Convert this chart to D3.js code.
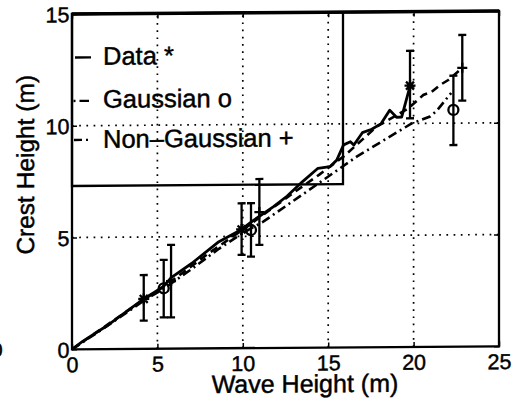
<!DOCTYPE html>
<html>
<head>
<meta charset="utf-8">
<script src="https://cdn.jsdelivr.net/npm/d3@7"></script>
<style>
  html, body { margin: 0; padding: 0; background: #fff; }
  svg { display: block; font-family: "Liberation Sans", Arial, Helvetica, sans-serif; }
  svg text { stroke: #000; stroke-width: 0.45px; }
</style>
</head>
<body>
<svg id="chart" width="519" height="403"></svg>
<script>
// ---------- data ----------
const xTickValues = [0, 5, 10, 15, 20, 25];
const yTickValues = [0, 5, 10, 15];
const xGrid = [5, 10, 15, 20];
const yGrid = [5, 10];

// solid "Data" line
const dataLineX = [0, 0.6, 2.0, 4.2, 5.3, 5.85, 7.0, 8.6, 9.93, 10.6, 11.8, 12.6, 13.5, 14.4, 15.1, 15.5, 15.9, 16.3, 16.5, 17.0, 17.55, 18.1, 18.6, 19.0, 19.3, 19.8];
const dataLineY = [0, 0.34, 1.02, 2.23, 2.75, 3.2, 3.8, 4.77, 5.31, 5.7, 6.32, 6.79, 7.43, 8.02, 8.09, 8.38, 9.06, 9.2, 9.05, 9.6, 9.75, 10.0, 10.6, 10.28, 10.28, 11.69];

// dash-dot "Gaussian" line
const gaussLineX = [0, 2.0, 4.2, 5.4, 7.0, 8.6, 10.0, 11.2, 13.74, 16.67, 19.89, 20.96, 21.35, 22.2];
const gaussLineY = [0, 1.0, 2.15, 2.7, 3.55, 4.45, 5.15, 5.65, 6.98, 8.53, 10.0, 10.3, 10.55, 11.35];

// dashed "Non-Gaussian" line
const nonGaussLineX = [0, 2.0, 4.2, 5.8, 8.0, 10.0, 11.0, 13.0, 14.5, 16.0, 17.84, 18.52, 19.69, 20.57, 21.06, 21.55, 22.03, 22.85];
const nonGaussLineY = [0, 1.05, 2.2, 3.0, 4.25, 5.3, 5.85, 6.95, 7.75, 8.6, 9.87, 10.16, 10.67, 11.27, 11.41, 11.71, 11.93, 12.47];

// markers with error bars
const dataPtX = [4.2, 9.93, 19.79];
const dataPtY = [2.23, 5.31, 11.69];
const dataPtLo = [1.26, 4.17, 10.23];
const dataPtHi = [3.30, 6.48, 13.25];

const gaussPtX = [5.37, 10.48, 22.33];
const gaussPtY = [2.70, 5.28, 10.59];
const gaussPtLo = [1.40, 4.09, 9.02];
const gaussPtHi = [3.97, 6.48, 12.12];

const nonGaussPtX = [5.8, 10.97, 22.85];
const nonGaussPtY = [3.02, 6.08, 12.47];
const nonGaussPtLo = [1.40, 4.61, 11.0];
const nonGaussPtHi = [4.64, 7.56, 13.94];

const legendLabels = ["Data *", "Gaussian o", "Non\u2013Gaussian +"];
const xLabel = "Wave Height (m)";
const yLabel = "Crest Height (m)";

// ---------- layout ----------
const L = 72, R = 499, T = 14, B = 349.3;
const svg = d3.select("#chart");
// slight scan skew: right side sits a little higher
const root = svg.append("g").attr("transform", "translate(0,0.5) skewY(-0.4)");

const x = d3.scaleLinear().domain([0, 25]).range([L, R]);
const y = d3.scaleLinear().domain([0, 15]).range([B, T]);

// grid
const grid = root.append("g").attr("stroke", "#000").attr("stroke-width", 1.7)
  .attr("stroke-dasharray", "1.7,5.5").attr("fill", "none");
xGrid.forEach(v => grid.append("line").attr("x1", x(v)).attr("x2", x(v)).attr("y1", y(0)).attr("y2", y(15)));
yGrid.forEach(v => grid.append("line").attr("x1", x(0)).attr("x2", x(25)).attr("y1", y(v)).attr("y2", y(v)));

// axes (inner ticks)
const fs = 21.5;
const ax = root.append("g").attr("transform", `translate(0,${B})`)
  .call(d3.axisBottom(x).tickValues(xTickValues).tickSizeInner(-5).tickSizeOuter(0).tickPadding(0));
ax.select(".domain").remove();
ax.selectAll("text").attr("dy", null).attr("y", 22.8).attr("font-size", fs).attr("font-family", "Liberation Sans, Arial, sans-serif").attr("fill", "#000");
ax.selectAll("line").attr("stroke-width", 1.5);

const ay = root.append("g").attr("transform", `translate(${L},0)`)
  .call(d3.axisLeft(y).tickValues(yTickValues).tickSizeInner(-5).tickSizeOuter(0).tickPadding(2.5));
ay.select(".domain").remove();
ay.selectAll("text").attr("font-size", fs).attr("font-family", "Liberation Sans, Arial, sans-serif").attr("fill", "#000").attr("dy", "0.36em");
ay.selectAll("line").attr("stroke-width", 1.5);

const axT = root.append("g").attr("transform", `translate(0,${T})`)
  .call(d3.axisTop(x).tickValues(xTickValues).tickSizeInner(-5).tickSizeOuter(0).tickFormat(""));
axT.select(".domain").remove();
axT.selectAll("line").attr("stroke-width", 1.5);
const ayR = root.append("g").attr("transform", `translate(${R},0)`)
  .call(d3.axisRight(y).tickValues(yTickValues).tickSizeInner(-5).tickSizeOuter(0).tickFormat(""));
ayR.select(".domain").remove();
ayR.selectAll("line").attr("stroke-width", 1.5);

// frame
root.append("rect").attr("x", L).attr("y", T).attr("width", R - L).attr("height", B - T)
  .attr("fill", "none").attr("stroke", "#000").attr("stroke-width", 2.3);
root.append("line").attr("x1", L).attr("x2", R).attr("y1", T).attr("y2", T)
  .attr("stroke", "#000").attr("stroke-width", 3.4);

// legend box (transparent)
const legR = 343, legB = 186;
root.append("rect").attr("x", L).attr("y", T).attr("width", legR - L).attr("height", legB - T)
  .attr("fill", "none").attr("stroke", "#000").attr("stroke-width", 2.3);

// lines
const mk = (xs, ys) => xs.map((v, i) => [v, ys[i]]);
const line = d3.line().x(d => x(d[0])).y(d => y(d[1]));
root.append("path").datum(mk(gaussLineX, gaussLineY)).attr("d", line)
  .attr("fill", "none").attr("stroke", "#000").attr("stroke-width", 2.6).attr("stroke-dasharray", "9,4,2,4");
root.append("path").datum(mk(nonGaussLineX, nonGaussLineY)).attr("d", line)
  .attr("fill", "none").attr("stroke", "#000").attr("stroke-width", 2.6).attr("stroke-dasharray", "8,5");
root.append("path").datum(mk(dataLineX, dataLineY)).attr("d", line)
  .attr("fill", "none").attr("stroke", "#000").attr("stroke-width", 2.8).attr("stroke-linejoin", "round");

// error bars
function errBars(xs, lo, hi) {
  const g = root.append("g").attr("stroke", "#000").attr("stroke-width", 2.3);
  xs.forEach((v, i) => {
    g.append("line").attr("x1", x(v)).attr("x2", x(v)).attr("y1", y(lo[i])).attr("y2", y(hi[i]));
    g.append("line").attr("x1", x(v) - 4).attr("x2", x(v) + 4).attr("y1", y(lo[i])).attr("y2", y(lo[i]));
    g.append("line").attr("x1", x(v) - 4).attr("x2", x(v) + 4).attr("y1", y(hi[i])).attr("y2", y(hi[i]));
  });
}
errBars(dataPtX, dataPtLo, dataPtHi);
errBars(gaussPtX, gaussPtLo, gaussPtHi);
errBars(nonGaussPtX, nonGaussPtLo, nonGaussPtHi);

// markers
const mg = root.append("g").attr("stroke", "#000").attr("fill", "none").attr("stroke-width", 2.3);
dataPtX.forEach((v, i) => {
  const cx = x(v), cy = y(dataPtY[i]), r = 5.5, d = 4;
  mg.append("path").attr("d",
    `M${cx - r},${cy}H${cx + r}M${cx},${cy - r}V${cy + r}M${cx - d},${cy - d}L${cx + d},${cy + d}M${cx - d},${cy + d}L${cx + d},${cy - d}`);
});
gaussPtX.forEach((v, i) => {
  mg.append("circle").attr("cx", x(v)).attr("cy", y(gaussPtY[i])).attr("r", 5);
});
nonGaussPtX.forEach((v, i) => {
  const cx = x(v), cy = y(nonGaussPtY[i]), r = 5;
  mg.append("path").attr("d", `M${cx - r},${cy}H${cx + r}M${cx},${cy - r}V${cy + r}`);
});

// legend entries
const lf = 25.5;
const legY = [65, 108, 148];
const lg = root.append("g");
lg.append("line").attr("x1", 75).attr("x2", 91).attr("y1", legY[0] - 7.5).attr("y2", legY[0] - 7.5)
  .attr("stroke", "#000").attr("stroke-width", 2.3);
lg.append("line").attr("x1", 73.5).attr("x2", 89).attr("y1", legY[1] - 7).attr("y2", legY[1] - 7)
  .attr("stroke", "#000").attr("stroke-width", 2.3).attr("stroke-dasharray", "2,4,10,10");
lg.append("line").attr("x1", 74).attr("x2", 89).attr("y1", legY[2] - 8).attr("y2", legY[2] - 8)
  .attr("stroke", "#000").attr("stroke-width", 2.3).attr("stroke-dasharray", "8,4,2,10");
legendLabels.forEach((t, i) => {
  lg.append("text").attr("x", 103).attr("y", legY[i]).attr("font-size", lf).attr("fill", "#000").text(t);
});

// axis labels
root.append("text").attr("x", 305).attr("y", 394).attr("text-anchor", "middle")
  .attr("font-size", 25).attr("fill", "#000").text(xLabel);
root.append("text").attr("transform", "translate(33.5,164.5) rotate(-90)").attr("text-anchor", "middle")
  .attr("font-size", 24.5).attr("fill", "#000").text(yLabel);

// stray clipped digit at the left edge of the scanned page
svg.append("text").attr("x", -9).attr("y", 357).attr("font-size", 21).attr("fill", "#000").text("0");
</script>
</body>
</html>
